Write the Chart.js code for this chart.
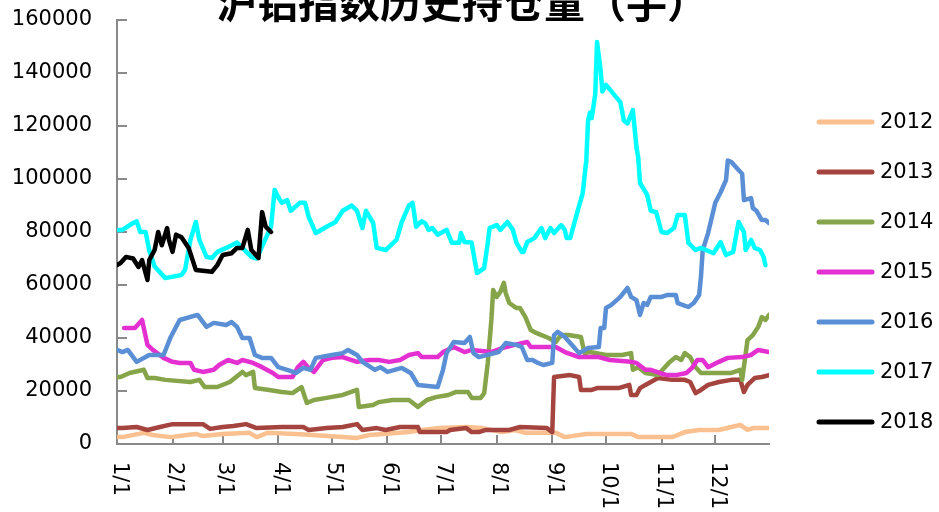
<!DOCTYPE html>
<html>
<head>
<meta charset="utf-8">
<script src="https://cdn.jsdelivr.net/npm/chart.js@4.4.1/dist/chart.umd.min.js"></script>
<style>
  html, body { margin: 0; padding: 0; background: #fff; }
  canvas { display: block; }
</style>
</head>
<body>
<canvas id="chartOpenInterest" width="939" height="512"></canvas>
<script>
// Dados: [dia do ano, contratos]
const chartTitle = '沪铝指数历史持仓量（手）';
const monthLabels = ['1/1', '2/1', '3/1', '4/1', '5/1', '6/1', '7/1', '8/1', '9/1', '10/1', '11/1', '12/1'];
const monthStarts = [0, 31, 59, 90, 120, 151, 181, 212, 243, 273, 304, 334];
const years = ['2012', '2013', '2014', '2015', '2016', '2017', '2018'];
const colors = ['#FAC08F', '#A5443E', '#86A44A', '#E430D0', '#5A8FD5', '#00FFFF', '#000000'];

const s2012 = [[0,2600],[3,2600],[15,4200],[20,3400],[30,2600],[39,3400],[44,3800],[48,3000],[59,3800],[74,4200],[78,2600],[84,4200],[100,3800],[109,3400],[126,2600],[134,2300],[141,3400],[163,4500],[170,5300],[180,6000],[195,6400],[204,6000],[215,4500],[222,5300],[228,4200],[245,4200],[250,2600],[262,3800],[287,3800],[291,2600],[310,2600],[317,4500],[325,5300],[336,5300],[343,6400],[348,7200],[352,5300],[355,6000],[364,6000]];
const s2013 = [[0,6000],[3,6000],[11,6400],[17,5300],[24,6400],[31,7500],[48,7500],[52,5700],[59,6400],[65,6800],[72,7500],[78,6000],[92,6400],[104,6400],[107,5300],[117,6000],[126,6400],[134,7500],[137,5300],[145,6000],[150,5300],[158,6400],[168,6400],[169,4500],[184,4500],[186,5300],[195,6000],[198,4500],[202,4500],[206,5300],[219,5300],[225,6400],[240,6000],[243,4500],[244,25300],[253,26000],[258,25300],[259,20400],[265,20400],[268,21100],[280,21100],[286,22300],[287,18500],[290,18500],[292,21100],[295,22300],[298,23400],[302,24900],[310,24200],[317,24200],[320,23400],[323,19200],[326,20400],[330,22300],[336,23400],[343,24200],[348,24200],[350,19600],[352,22300],[356,24900],[360,25300],[364,26000]];
const s2014 = [[0,25300],[2,25300],[7,26800],[15,28000],[17,24900],[21,24900],[27,24200],[41,23400],[46,24200],[49,21500],[56,21500],[63,23400],[70,27200],[72,26000],[76,27200],[77,21100],[85,20400],[92,19600],[98,19200],[103,21500],[106,15500],[110,16600],[117,17400],[126,18500],[134,20400],[135,14000],[143,14700],[146,15800],[154,16600],[163,16600],[168,14000],[173,16600],[178,17700],[185,18500],[189,19600],[196,19600],[198,17400],[203,17400],[205,19200],[207,30600],[209,46800],[210,58100],[212,55500],[214,57400],[216,60800],[217,57000],[219,53200],[223,51300],[225,51300],[228,47900],[231,43000],[234,41900],[237,41100],[241,40000],[245,38500],[247,40400],[249,41100],[252,41100],[259,40400],[261,34300],[264,34700],[273,33600],[282,33600],[287,34300],[288,28000],[291,29000],[295,26800],[302,26000],[308,30600],[312,32800],[315,31700],[317,34300],[320,32800],[323,29000],[326,26800],[343,26800],[348,28000],[349,24200],[352,39200],[355,41100],[358,44200],[360,47900],[362,46800],[364,48700]];
const s2015 = [[4,43800],[10,43800],[14,46800],[17,37400],[20,35500],[26,32500],[31,31000],[35,30600],[41,30600],[43,28000],[48,27200],[54,28000],[57,29800],[62,31700],[67,30600],[70,31700],[76,30600],[81,29000],[87,26800],[90,25300],[98,25300],[101,29000],[104,31000],[107,28700],[110,27200],[115,31700],[120,32500],[126,32800],[134,31000],[141,31700],[146,31700],[152,31000],[158,31700],[163,33600],[168,34300],[170,32800],[179,32800],[182,34700],[188,36600],[194,34700],[198,35500],[209,34700],[215,36200],[222,37400],[229,38500],[231,36600],[245,36600],[250,34700],[258,32800],[269,32800],[275,31700],[287,31000],[290,30600],[295,28000],[298,28000],[303,26800],[307,26000],[312,26000],[318,26800],[321,28700],[324,31700],[327,31700],[330,29000],[336,31000],[341,32500],[349,32800],[354,33600],[358,35500],[364,34700]];
const s2016 = [[0,35500],[3,34700],[6,35500],[11,31000],[18,33600],[26,33600],[30,40400],[35,46800],[45,48700],[50,44200],[54,45700],[61,44900],[64,46000],[67,44200],[70,40000],[74,40000],[77,33600],[81,32500],[86,32500],[90,29000],[95,28000],[100,26800],[104,28700],[108,28000],[111,32500],[120,33600],[126,34300],[129,35500],[134,33600],[137,31000],[144,28000],[147,29000],[151,27200],[159,28700],[164,26800],[168,22300],[179,21500],[182,28000],[184,34300],[188,38500],[194,38100],[197,40400],[199,34300],[202,32800],[213,34700],[217,38100],[223,37400],[226,36600],[229,31700],[232,31700],[235,30600],[238,29800],[243,30600],[244,41100],[246,42300],[250,40400],[254,37400],[258,34300],[263,36200],[269,36600],[270,43800],[272,43800],[273,51300],[276,52500],[281,55500],[285,58900],[287,55500],[290,54300],[292,48700],[294,53200],[296,52500],[298,55500],[304,55500],[307,56200],[312,56200],[313,53200],[319,51700],[322,53200],[325,56200],[326,63000],[327,73200],[330,79600],[334,91000],[337,95000],[340,99600],[341,107000],[343,106400],[347,103400],[349,102000],[350,92000],[354,92800],[355,89000],[357,88000],[360,84500],[362,84500],[364,83400]];
const s2017 = [[0,80800],[3,80800],[9,83400],[11,84000],[13,80000],[16,80000],[18,73000],[21,67000],[27,62600],[36,63800],[38,65700],[41,77000],[44,83800],[46,77000],[50,70600],[53,70200],[56,72500],[61,74000],[67,76000],[70,74000],[75,70600],[78,70000],[86,82000],[88,95900],[90,93200],[92,91000],[95,92000],[97,88000],[102,91000],[105,91000],[107,85700],[111,79600],[117,82000],[122,83800],[126,88000],[131,90000],[134,88000],[137,81500],[139,88000],[143,83400],[145,74000],[150,73200],[156,77000],[159,83800],[163,90000],[165,91000],[167,82000],[170,84000],[172,83400],[174,80800],[176,81500],[179,79000],[184,80800],[187,75900],[191,75900],[192,79600],[194,76200],[198,76000],[199,72000],[201,64500],[205,66400],[207,75900],[208,81500],[212,82600],[214,80800],[218,83800],[221,80800],[223,75900],[226,72500],[227,72500],[229,76200],[233,77700],[237,81500],[239,77700],[242,81500],[244,79600],[248,82600],[250,80800],[251,77700],[253,77700],[257,87500],[260,94700],[262,107000],[263,122000],[264,125000],[265,123000],[267,132000],[268,151700],[270,141000],[271,133000],[273,135500],[281,129000],[283,122000],[285,121000],[288,126000],[290,112000],[291,108000],[292,98500],[296,94000],[298,88000],[301,87500],[304,80000],[307,79600],[311,81500],[313,86400],[317,86400],[319,75900],[323,73200],[326,74000],[333,72000],[337,76200],[340,71300],[344,72500],[347,83800],[350,80000],[351,73200],[354,77000],[356,74000],[359,73200],[361,70600],[362,67500]];
const s2018 = [[0,67500],[2,68300],[5,70600],[9,70000],[12,66800],[14,69400],[17,61900],[18,69400],[21,73200],[23,80000],[25,75000],[28,81500],[29,77000],[31,72500],[33,79000],[36,78000],[40,74000],[44,65700],[53,65000],[56,67500],[59,71300],[64,72000],[67,74000],[70,74000],[73,80800],[75,73200],[79,70200],[81,87500],[83,82000],[86,80000]];

const series = [s2012, s2013, s2014, s2015, s2016, s2017, s2018];
const axisGray = '#898989';
const textFont = '"DejaVu Sans", sans-serif';

// título cortado no topo, como no original
const topTitlePlugin = {
    id: 'topTitle',
    afterDraw(chart) {
        const { ctx } = chart;
        ctx.save();
        ctx.font = 'bold 41px "Noto Sans CJK SC"';
        ctx.fillStyle = '#000';
        ctx.textAlign = 'center';
        ctx.textBaseline = 'middle';
        ctx.fillText(chartTitle, 462, 2);
        ctx.restore();
    }
};

// rótulos do eixo x, girados no sentido horário
const monthLabelPlugin = {
    id: 'monthLabels',
    afterDraw(chart) {
        const { ctx } = chart;
        const x = chart.scales.x;
        ctx.save();
        ctx.font = '21px ' + textFont;
        ctx.fillStyle = '#000';
        ctx.textAlign = 'left';
        ctx.textBaseline = 'middle';
        monthLabels.forEach((label, i) => {
            ctx.save();
            ctx.translate(x.getPixelForValue(monthStarts[i]) + 2, x.top + 18);
            ctx.rotate(Math.PI / 2);
            ctx.fillText(label, 0, 0);
            ctx.restore();
        });
        ctx.restore();
    }
};

// legenda à direita
const sideLegendPlugin = {
    id: 'sideLegend',
    afterDraw(chart) {
        const { ctx, chartArea } = chart;
        const left = chartArea.right + 50;
        ctx.save();
        ctx.font = '21px ' + textFont;
        ctx.textAlign = 'left';
        ctx.textBaseline = 'middle';
        chart.data.datasets.forEach((ds, i) => {
            const y = chartArea.top + 102 + i * 50;
            ctx.strokeStyle = ds.borderColor;
            ctx.lineWidth = 5;
            ctx.lineCap = 'round';
            ctx.beginPath();
            ctx.moveTo(left, y);
            ctx.lineTo(left + 53, y);
            ctx.stroke();
            ctx.fillStyle = '#000';
            ctx.fillText(ds.label, left + 61, y + 1);
        });
        ctx.restore();
    }
};

const ctx = document.getElementById('chartOpenInterest');

new Chart(ctx, {
    type: 'line',
    data: {
        datasets: years.map((year, i) => ({
            label: year,
            data: series[i].map(([d, v]) => ({ x: d, y: v })),
            borderColor: colors[i],
            backgroundColor: colors[i],
            borderWidth: 4.5,
            borderJoinStyle: 'round',
            borderCapStyle: 'round',
            pointRadius: 0,
            tension: 0,
            order: years.length - i
        }))
    },
    options: {
        responsive: false,
        animation: false,
        layout: { padding: { left: 0, right: 170, top: 20, bottom: 0 } },
        plugins: {
            legend: { display: false },
            tooltip: { enabled: false },
            title: { display: false }
        },
        scales: {
            x: {
                type: 'linear',
                min: 0,
                max: 364,
                afterBuildTicks: scale => {
                    scale.ticks = monthStarts.map(v => ({ value: v }));
                },
                afterFit: scale => { scale.height = 68; },
                ticks: { display: false },
                grid: { drawOnChartArea: false, drawTicks: true, tickLength: -9, color: axisGray, lineWidth: 2 },
                border: { color: axisGray, width: 2 }
            },
            y: {
                min: 0,
                max: 160000,
                afterFit: scale => {
                    scale.width = 117;
                    scale.paddingTop = 0;
                    scale.paddingBottom = 0;
                },
                ticks: {
                    stepSize: 20000,
                    padding: 35,
                    color: '#000',
                    format: { useGrouping: false },
                    font: { family: textFont, size: 21 }
                },
                grid: { drawOnChartArea: false, drawTicks: true, tickLength: -10, color: axisGray, lineWidth: 2 },
                border: { color: axisGray, width: 2 }
            }
        }
    },
    plugins: [monthLabelPlugin, sideLegendPlugin, topTitlePlugin]
});
</script>
</body>
</html>
